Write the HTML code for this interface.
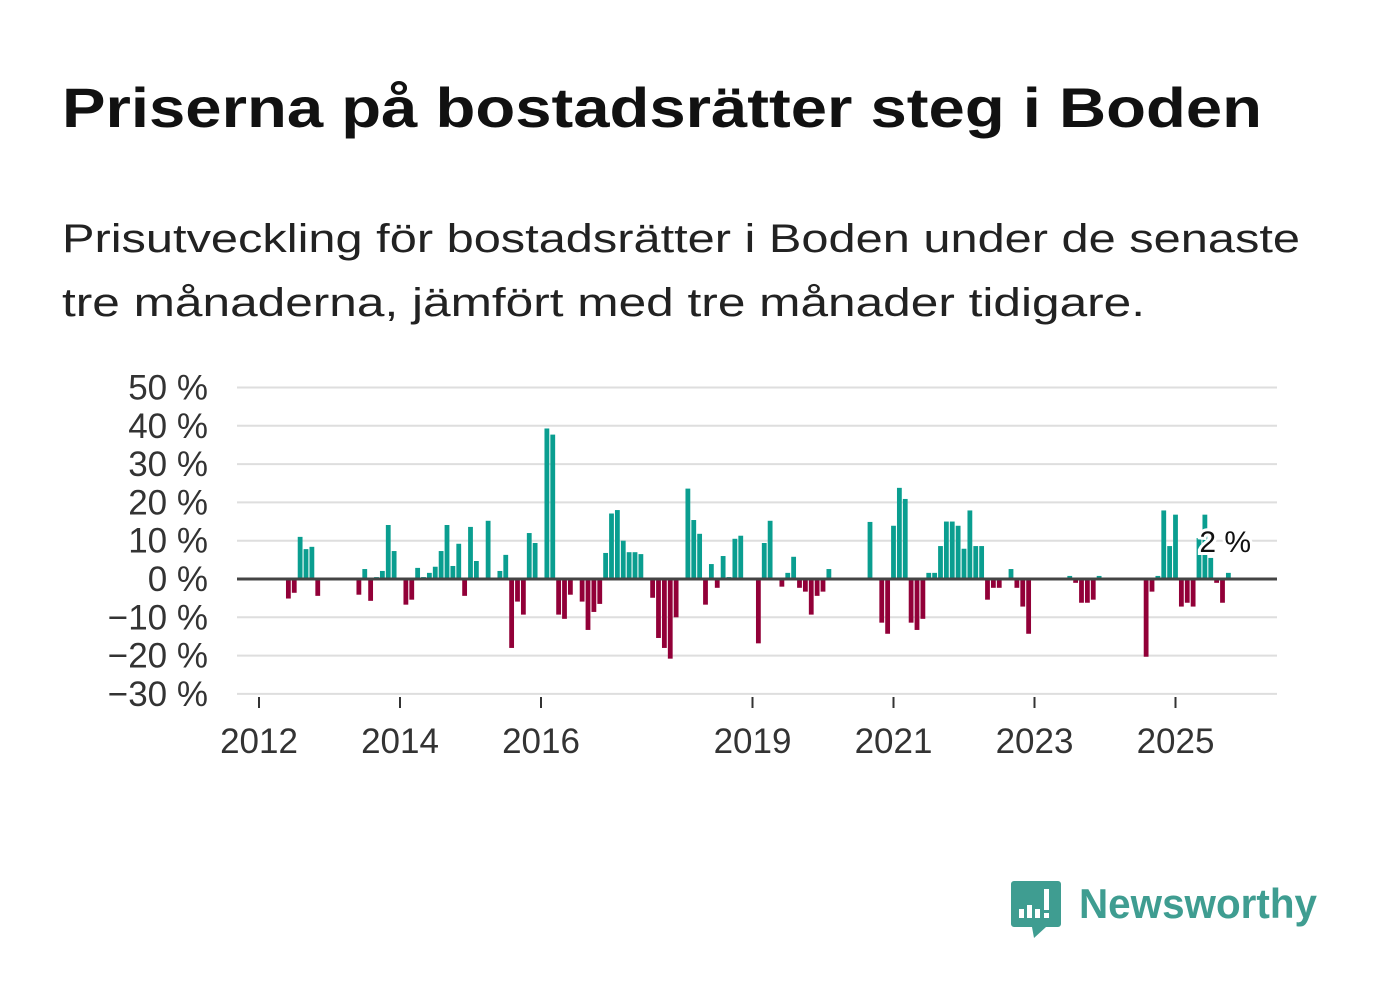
<!DOCTYPE html>
<html><head><meta charset="utf-8"><style>
html,body{margin:0;padding:0;background:#fff;}
svg{display:block;font-family:"Liberation Sans",sans-serif;}
</style></head><body>
<svg id="chart" width="1382" height="999" viewBox="0 0 1382 999">
<text x="62" y="127" font-size="56" font-weight="bold" fill="#111" textLength="1200" lengthAdjust="spacingAndGlyphs">Priserna på bostadsrätter steg i Boden</text>
<text x="62" y="252" font-size="40" fill="#222" textLength="1238" lengthAdjust="spacingAndGlyphs">Prisutveckling för bostadsrätter i Boden under de senaste</text>
<text x="62" y="316" font-size="40" fill="#222" textLength="1083" lengthAdjust="spacingAndGlyphs">tre månaderna, jämfört med tre månader tidigare.</text>
<g id="grid"></g>
<g id="bars"></g>
<g id="axes"></g>
<g>
<path d="M1014 881 h44 a3 3 0 0 1 3 3 v40 a3 3 0 0 1 -3 3 h-12 l-12 11 l-2 -11 h-18 a3 3 0 0 1 -3 -3 v-40 a3 3 0 0 1 3 -3z" fill="#3f9d91"/>
<rect x="1019" y="909" width="5" height="9" fill="#fff"/><rect x="1027" y="905" width="5" height="13" fill="#fff"/><rect x="1035" y="909" width="5" height="9" fill="#fff"/><rect x="1044" y="889" width="5" height="21" fill="#fff"/><rect x="1044" y="913" width="5" height="5" fill="#fff"/>
<text x="1079" y="918" font-size="42" font-weight="bold" fill="#3f9d91" textLength="238" lengthAdjust="spacingAndGlyphs">Newsworthy</text>
</g>
</svg>
<script>
const months = [5,6,7,8,9,10,17,18,19,20,21,22,23,25,26,27,28,29,30,31,32,33,34,35,36,37,39,41,42,43,44,45,46,47,49,50,51,52,53,55,56,57,58,59,60,61,62,63,64,65,67,68,69,70,71,73,74,75,76,77,78,79,80,81,82,85,86,87,89,90,91,92,93,94,95,96,97,104,106,107,108,109,110,111,112,113,114,115,116,117,118,119,120,121,122,123,124,125,126,128,129,130,131,138,139,140,141,142,143,151,152,153,154,155,156,157,158,159,160,161,162,163,164,165];
const values = [-5.1,-3.6,11,7.8,8.4,-4.4,-4.1,2.6,-5.7,0.5,2.1,14.1,7.3,-6.7,-5.4,2.9,0.5,1.6,3.2,7.3,14.1,3.4,9.2,-4.4,13.6,4.7,15.2,2.1,6.3,-18,-5.9,-9.3,12,9.4,39.3,37.7,-9.3,-10.4,-4.1,-5.9,-13.3,-8.6,-6.5,6.8,17.1,18,10,7,7,6.5,-4.9,-15.4,-18,-20.8,-10,23.6,15.4,11.8,-6.7,3.9,-2.3,6,0.5,10.5,11.3,-16.8,9.4,15.2,-2,1.6,5.8,-2.3,-3.3,-9.3,-4.4,-3.3,2.6,14.9,-11.4,-14.3,13.9,23.8,20.9,-11.4,-13.3,-10.4,1.6,1.6,8.6,15,15,13.9,7.9,17.9,8.6,8.6,-5.4,-2.3,-2.3,2.6,-2.3,-7.2,-14.3,0.8,-1,-6.2,-6.2,-5.4,0.8,-20.3,-3.3,0.8,17.9,8.6,16.8,-7.2,-6.2,-7.2,10.7,16.8,5.5,-1,-6.2,1.6];
const yTicks = [50,40,30,20,10,0,-10,-20,-30];
const xTickYears = [2012,2014,2016,2019,2021,2023,2025];
const lastLabel = "2 %";

const NS='http://www.w3.org/2000/svg';
const y = v => 579 - v*3.83;
const x = m => 259 + m*5.875;
const yr = Y => x((Y-2012)*12);
function mk(tag, attrs, parent){const e=document.createElementNS(NS,tag);for(const k in attrs)e.setAttribute(k,attrs[k]);parent.appendChild(e);return e;}
const grid=document.getElementById('grid'), bars=document.getElementById('bars'), axes=document.getElementById('axes');
yTicks.forEach(t=>{
  if(t!==0){const l=mk('line',{x1:237,x2:1277,y1:y(t),y2:y(t),stroke:'#dedede','stroke-width':2},grid);
  
  }
  const tx=mk('text',{x:208,y:y(t)+12,'font-size':35,'text-anchor':'end',fill:'#333'},axes);
  tx.textContent=(t<0?'\u2212'+(-t):t)+' %';
  
  
});
months.forEach((m,i)=>{
  const v=values[i];
  const r=mk('rect',{x:x(m)-2.4,width:4.8,y:v>=0?y(v):y(0),height:Math.abs(y(v)-y(0)),fill:v>=0?'#0a9e90':'#920038'},bars);
  
  
});
const zl=mk('line',{x1:237,x2:1277,y1:y(0),y2:y(0),stroke:'#444','stroke-width':3},axes);


xTickYears.forEach(Y=>{
  const t=mk('line',{x1:yr(Y),x2:yr(Y),y1:697,y2:708,stroke:'#333','stroke-width':2},axes);
  
  
  const tx=mk('text',{x:yr(Y),y:753,'font-size':35,'text-anchor':'middle',fill:'#333'},axes);
  tx.textContent=Y;
  
  
});
const lm=months[months.length-1];
const lab=mk('text',{x:x(lm)-29,y:552,'font-size':30,fill:'#111',stroke:'#fff','stroke-width':6,'paint-order':'stroke'},axes);
lab.textContent=lastLabel;


</script>
</body></html>
